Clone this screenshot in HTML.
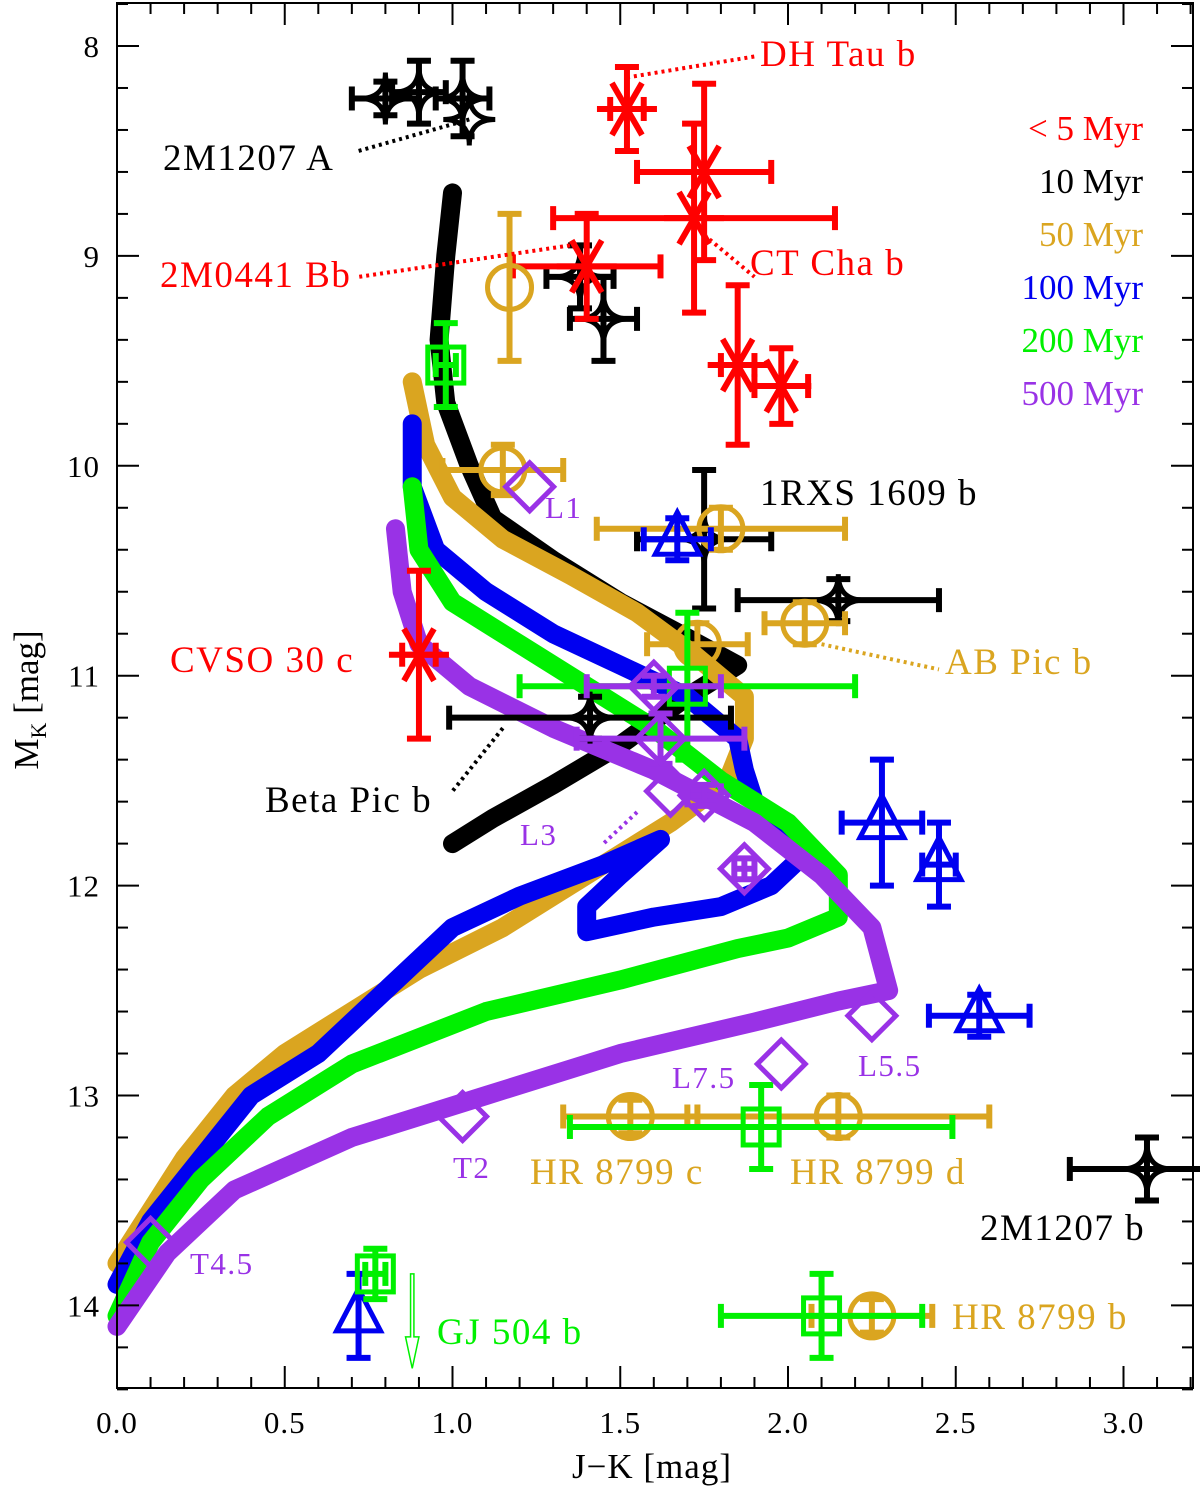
<!DOCTYPE html>
<html><head><meta charset="utf-8"><style>
body{margin:0;background:#fff}
svg{display:block;font-family:"Liberation Serif",serif}
</style></head><body>
<svg id="c" width="1200" height="1495"></svg>
<script>
const tracks10=[[1.0,8.7],[0.98,9.0],[0.96,9.4],[0.98,9.7],[1.05,10.0],[1.12,10.25],[1.3,10.45],[1.5,10.65],[1.7,10.82],[1.85,10.95],[1.7,11.1],[1.5,11.33],[1.3,11.52],[1.12,11.68],[1.0,11.8]];
const tracks50=[[0.88,9.6],[0.92,9.9],[1.0,10.15],[1.15,10.35],[1.35,10.52],[1.55,10.7],[1.72,10.9],[1.87,11.1],[1.87,11.3],[1.82,11.5],[1.65,11.7],[1.5,11.85],[1.35,12.0],[1.15,12.2],[0.9,12.4],[0.7,12.6],[0.5,12.8],[0.35,13.0],[0.2,13.3],[0.1,13.55],[0.0,13.8]];
const tracks100=[[0.88,9.8],[0.88,10.1],[0.95,10.4],[1.1,10.6],[1.3,10.8],[1.5,10.95],[1.7,11.1],[1.85,11.3],[1.87,11.45],[1.9,11.6],[2.05,11.85],[1.95,12.0],[1.8,12.1],[1.6,12.15],[1.4,12.22],[1.4,12.1],[1.5,11.95],[1.62,11.78],[1.45,11.9],[1.2,12.05],[1.0,12.2],[0.8,12.5],[0.6,12.8],[0.4,13.0],[0.3,13.2],[0.1,13.6],[0.0,13.9]];
const tracks200=[[0.88,10.1],[0.9,10.4],[1.0,10.65],[1.2,10.85],[1.4,11.05],[1.6,11.25],[1.8,11.5],[2.0,11.7],[2.15,11.95],[2.15,12.15],[2.0,12.25],[1.85,12.3],[1.5,12.45],[1.1,12.6],[0.7,12.85],[0.45,13.1],[0.25,13.4],[0.1,13.7],[0.0,14.05]];
const tracks500=[[0.83,10.3],[0.85,10.6],[0.9,10.85],[1.05,11.05],[1.3,11.25],[1.6,11.45],[1.9,11.7],[2.1,11.95],[2.25,12.2],[2.3,12.5],[2.15,12.55],[1.9,12.65],[1.5,12.8],[1.1,13.0],[0.7,13.2],[0.35,13.45],[0.15,13.75],[0.0,14.1]];
const ptsBlack=[[0.8,8.25,0.1,0.08],[0.9,8.22,0.08,0.15],[1.03,8.25,0.08,0.18],[1.05,8.35,0.0,0.0],[1.38,9.1,0.1,0.15],[1.45,9.3,0.1,0.2],[1.75,10.35,0.2,0.33],[2.15,10.64,0.3,0.1],[1.41,11.2,0.42,0.1],[3.07,13.35,0.23,0.15]];
const ptsRed=[[1.52,8.3,0.05,0.2],[1.75,8.6,0.2,0.42],[1.72,8.82,0.42,0.45],[1.4,9.05,0.22,0.25],[1.85,9.52,0.05,0.38],[1.98,9.62,0.08,0.18],[0.9,10.9,0.05,0.4]];
const ptsGold=[[1.17,9.15,0.0,0.35],[1.15,10.02,0.18,0.12],[1.8,10.3,0.37,0.1],[1.73,10.85,0.15,0.1],[2.05,10.75,0.12,0.1],[1.53,13.1,0.2,0.08],[2.15,13.1,0.45,0.1],[2.25,14.05,0.18,0.08]];
const ptsBlue=[[1.67,10.35,0.1,0.1],[2.28,11.7,0.12,0.3],[2.45,11.9,0.05,0.2],[2.57,12.62,0.15,0.1],[0.72,14.05,0.0,0.2]];
const ptsGreen=[[0.98,9.52,0.03,0.2],[1.7,11.05,0.5,0.35],[1.92,13.15,0.57,0.2],[2.1,14.05,0.3,0.2],[0.77,13.85,0.03,0.12]];
const ptsPurple=[[1.23,10.1,0,0],[1.6,11.05,0.2,0.05],[1.62,11.3,0.25,0.12],[1.65,11.55,0,0],[1.75,11.57,0.05,0.05],[1.87,11.92,0.03,0.05],[2.25,12.62,0,0],[1.98,12.85,0,0],[1.03,13.1,0,0],[0.1,13.7,0,0]];
const xTicks=["0.0","0.5","1.0","1.5","2.0","2.5","3.0"];
const yTicks=["8","9","10","11","12","13","14"];

const C={black:"#000",red:"#f00",gold:"#daa520",blue:"#0000f0",green:"#00f000",purple:"#9932e6"};
const X=v=>117+v*335.5, Y=v=>46+(v-8)*209.9;
const svg=document.getElementById('c');const NS="http://www.w3.org/2000/svg";
function el(t,a,p){const e=document.createElementNS(NS,t);for(const k in a)e.setAttribute(k,a[k]);(p||svg).appendChild(e);return e;}
function txt(s,x,y,col,size,anchor,name,ls){const t=el('text',{x:x,y:y,fill:col,'font-size':size,'text-anchor':anchor||'start','letter-spacing':ls||0});t.textContent=s;

return t;}
[[tracks10,C.black,'track-10myr'],[tracks50,C.gold,'track-50myr'],[tracks100,C.blue,'track-100myr'],[tracks200,C.green,'track-200myr'],[tracks500,C.purple,'track-500myr']].forEach(([d,c,n])=>{
 const p=el('polyline',{points:d.map(q=>X(q[0])+','+Y(q[1])).join(' '),fill:'none',stroke:c,'stroke-width':19,'stroke-linecap':'round','stroke-linejoin':'round'});
 
 
});
function sym(type,cx,cy,c,g){
 const s={fill:'none',stroke:c,'stroke-width':5};
 if(type==='circle')el('circle',Object.assign({cx,cy,r:22},s),g);
 if(type==='square')el('rect',Object.assign({x:cx-18,y:cy-18,width:36,height:36},s),g);
 if(type==='tri')el('polygon',Object.assign({points:`${cx},${cy-27} ${cx-22},${cy+15} ${cx+22},${cy+15}`},s),g);
 if(type==='diamond')el('polygon',Object.assign({points:`${cx},${cy-24} ${cx+24},${cy} ${cx},${cy+24} ${cx-24},${cy}`},s),g);
 if(type==='star')el('path',Object.assign({d:`M${cx},${cy-26} Q${cx},${cy} ${cx+26},${cy} Q${cx},${cy} ${cx},${cy+26} Q${cx},${cy} ${cx-26},${cy} Q${cx},${cy} ${cx},${cy-26}Z`},s,{'stroke-width':5}),g);
 if(type==='ast'){for(const a of [0,60,120]){const r=(a+90)*Math.PI/180;el('line',Object.assign({x1:cx-30*Math.sin(r),y1:cy-30*Math.cos(r),x2:cx+30*Math.sin(r),y2:cy+30*Math.cos(r)},s,{'stroke-width':6}),g);}}
}
[[ptsBlack,C.black,'star','point-10myr'],[ptsRed,C.red,'ast','point-5myr'],[ptsGold,C.gold,'circle','point-50myr'],[ptsBlue,C.blue,'tri','point-100myr'],[ptsGreen,C.green,'square','point-200myr'],[ptsPurple,C.purple,'diamond','point-field-dwarf']].forEach(([d,c,t,n])=>{
 d.forEach(q=>{const g=el('g',{});
  
  
  const cx=X(q[0]),cy=Y(q[1]);const w={stroke:c,'stroke-width':6};
  if(q[2]>0){const a=X(q[0]-q[2]),b=X(q[0]+q[2]);el('line',Object.assign({x1:a,y1:cy,x2:b,y2:cy},w),g);el('line',Object.assign({x1:a,y1:cy-12,x2:a,y2:cy+12},w),g);el('line',Object.assign({x1:b,y1:cy-12,x2:b,y2:cy+12},w),g);}
  if(q[3]>0){const a=Y(q[1]-q[3]),b=Y(q[1]+q[3]);el('line',Object.assign({x1:cx,y1:a,x2:cx,y2:b},w),g);el('line',Object.assign({x1:cx-12,y1:a,x2:cx+12,y2:a},w),g);el('line',Object.assign({x1:cx-12,y1:b,x2:cx+12,y2:b},w),g);}
  sym(t,cx,cy,c,g);});
});
[[C.black,1.05,8.35,0.72,8.5],[C.red,1.52,8.15,1.9,8.05],[C.red,1.75,8.9,1.9,9.1],[C.red,1.35,8.95,0.72,9.1],[C.gold,2.1,10.85,2.45,10.97],[C.black,1.15,11.25,1.0,11.55],[C.purple,1.55,11.65,1.45,11.8]].forEach(l=>{
 const e=el('line',{x1:X(l[1]),y1:Y(l[2]),x2:X(l[3]),y2:Y(l[4]),stroke:l[0],'stroke-width':4,'stroke-dasharray':'3,4'});
 
 
});
const ar=el('path',{d:`M${X(0.875)},${Y(13.85)} L${X(0.885)},${Y(13.85)} L${X(0.885)},${Y(14.15)} L${X(0.9)},${Y(14.15)} L${X(0.88)},${Y(14.3)} L${X(0.86)},${Y(14.15)} L${X(0.875)},${Y(14.15)}Z`,fill:'none',stroke:C.green,'stroke-width':1.5});


[["DH Tau b",760,66,C.red],["2M1207 A",163,170,C.black],["CT Cha b",750,275,C.red],["2M0441 Bb",160,287,C.red],["L1",545,518,C.purple,1],["1RXS 1609 b",760,505,C.black],["CVSO 30 c",170,672,C.red],["AB Pic b",945,674,C.gold],["Beta Pic b",265,812,C.black],["L3",520,845,C.purple,1],["L5.5",858,1076,C.purple,1],["L7.5",672,1088,C.purple,1],["T2",453,1178,C.purple,1],["HR 8799 c",530,1184,C.gold],["HR 8799 d",790,1184,C.gold],["2M1207 b",980,1240,C.black],["T4.5",190,1274,C.purple,1],["GJ 504 b",437,1344,C.green],["HR 8799 b",952,1329,C.gold]].forEach(a=>{
 if(a[4])txt(a[0],a[1],a[2],a[3],31,'start','label-'+a[0].toLowerCase().replace(/[^a-z0-9]+/g,'-'),1.5);
 else txt(a[0],a[1],a[2],a[3],37,'start','label-'+a[0].toLowerCase().replace(/[^a-z0-9]+/g,'-'),1.5);
});
[["< 5 Myr",C.red,140],["10 Myr",C.black,193],["50 Myr",C.gold,246],["100 Myr",C.blue,299],["200 Myr",C.green,352],["500 Myr",C.purple,405]].forEach(a=>txt(a[0],1143,a[2],a[1],35,'end','legend-entry'));
const fr=el('rect',{x:117,y:3,width:1076,height:1385,fill:'none',stroke:'#000','stroke-width':2});

for(let v=0;v<=3.2001;v+=0.1){const x=X(v);const maj=Math.abs(v*2-Math.round(v*2))<1e-6;const L=maj?22:11;
 el('line',{x1:x,y1:1388,x2:x,y2:1388-L,stroke:'#000','stroke-width':2});el('line',{x1:x,y1:3,x2:x,y2:3+L,stroke:'#000','stroke-width':2});}
for(let v=7.8;v<=14.4001;v+=0.2){const y=Y(v);const maj=Math.abs(v-Math.round(v))<1e-6;const L=maj?22:11;
 el('line',{x1:117,y1:y,x2:117+L,y2:y,stroke:'#000','stroke-width':2});el('line',{x1:1193,y1:y,x2:1193-L,y2:y,stroke:'#000','stroke-width':2});}
xTicks.forEach(s=>txt(s,X(parseFloat(s)),1433,'#000',31,'middle','x-tick-label',1));
yTicks.forEach(s=>txt(s,100,Y(parseFloat(s))+11,'#000',31,'end','y-tick-label',1));
txt("J\u2212K [mag]",652,1478,'#000',35,'middle','x-axis-title',1);
const yl=el('text',{x:0,y:0,fill:'#000','font-size':35,'text-anchor':'middle',transform:'translate(38,700) rotate(-90)'});
yl.innerHTML='M<tspan font-size="22" dy="8">K</tspan><tspan dy="-8"> [mag]</tspan>';

</script>
</body></html>
